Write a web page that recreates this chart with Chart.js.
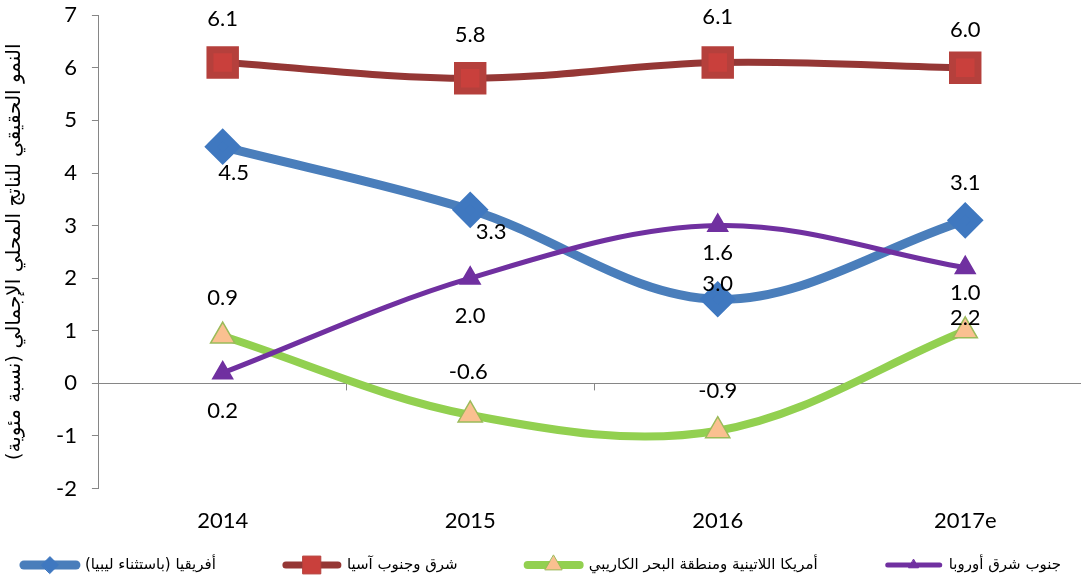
<!DOCTYPE html>
<html>
<head>
<meta charset="utf-8">
<script src="https://cdn.jsdelivr.net/npm/chart.js@4"></script>
<style>
html, body { margin: 0; padding: 0; overflow: hidden; background: #fff; }
#wrap { width: 1114px; height: 596px; margin-top: -13px; position: relative; }
</style>
</head>
<body>
<div id="wrap"><canvas id="growth-chart"></canvas></div>
<script>
const years = ["2014", "2015", "2016", "2017e"];
const africa = [4.5, 3.3, 1.6, 3.1];
const southEastAsia = [6.1, 5.8, 6.1, 6.0];
const latinAmerica = [0.9, -0.6, -0.9, 1.0];
const southEastEurope = [0.2, 2.0, 3.0, 2.2];
const yMin = -2, yMax = 7, yStep = 1;
const seriesNames = ["أفريقيا (باستثناء ليبيا)", "شرق وجنوب آسيا", "أمريكا اللاتينية ومنطقة البحر الكاريبي", "جنوب شرق أوروبا"];
const yTitle = "النمو الحقيقي للناتج المحلي الإجمالي (نسبة مئوية)";

// where each value label sits relative to its point [dx, dy] (px)
const labelShift = [
  [[11, 26], [21, 22], [0, -46], [0, -37]],
  [[0, -44], [0, -43], [0, -46], [0, -38]],
  [[0, -38], [-2, -43], [0, -40], [0, -38]],
  [[0, 38], [0, 38], [0, 58], [0, 50]]
];

const numFont = "Lato";
const arFont = "DejaVu Sans";
const axisGrey = "#868686";

const zeroLine = {
  id: "zeroLine",
  beforeDatasetsDraw(chart) {
    const {ctx, chartArea, scales} = chart;
    const y0 = scales.y.getPixelForValue(0);
    const step = (chartArea.right - chartArea.left) / years.length;
    ctx.save();
    ctx.strokeStyle = axisGrey;
    ctx.lineWidth = 1;
    ctx.beginPath();
    ctx.moveTo(chartArea.left, Math.round(y0) + 0.5);
    ctx.lineTo(chartArea.right, Math.round(y0) + 0.5);
    for (let i = 1; i <= years.length; i++) {
      const x = Math.round(chartArea.left + i * step) + 0.5;
      ctx.moveTo(x, y0);
      ctx.lineTo(x, y0 + 7);
    }
    ctx.stroke();
    ctx.restore();
  }
};

const valueLabels = {
  id: "valueLabels",
  afterDatasetsDraw(chart) {
    const ctx = chart.ctx;
    ctx.save();
    ctx.font = "22px " + numFont;
    ctx.fillStyle = "#000";
    ctx.textAlign = "center";
    ctx.textBaseline = "middle";
    chart.data.datasets.forEach((ds, di) => {
      chart.getDatasetMeta(di).data.forEach((pt, i) => {
        const s = labelShift[di][i];
        ctx.fillText(ds.data[i].toFixed(1), pt.x + s[0], pt.y + s[1]);
      });
    });
    ctx.restore();
  }
};

const lineLegend = {
  id: "lineLegend",
  afterDraw(chart) {
    const ctx = chart.ctx;
    const lineLen = 60, textGap = 5, itemGap = 66, yc = 578;
    ctx.save();
    ctx.font = "15px '" + arFont + "'";
    const widths = chart.data.datasets.map(ds => ctx.measureText(ds.label).width);
    let total = widths.reduce((a, b) => a + b, 0) + chart.data.datasets.length * (lineLen + textGap) + (chart.data.datasets.length - 1) * itemGap;
    let x = (1081 - total) / 2;
    chart.data.datasets.forEach((ds, i) => {
      ctx.strokeStyle = ds.borderColor;
      ctx.lineWidth = ds.borderWidth;
      ctx.lineCap = "round";
      ctx.beginPath();
      ctx.moveTo(x + 4, yc);
      ctx.lineTo(x + lineLen - 4, yc);
      ctx.stroke();
      ctx.fillStyle = ds.pointBackgroundColor;
      ctx.strokeStyle = ds.pointBorderColor;
      ctx.lineWidth = 1;
      Chart.helpers.drawPoint(ctx, {pointStyle: ds.pointStyle, radius: ds.pointRadius * 0.7, rotation: 0, borderWidth: 1}, x + lineLen / 2, yc);
      ctx.fillStyle = "#000";
      ctx.direction = "rtl";
      ctx.textAlign = "left";
      ctx.textBaseline = "middle";
      ctx.fillText(ds.label, x + lineLen + textGap, yc);
      x += lineLen + textGap + widths[i] + itemGap;
    });
    ctx.restore();
  }
};

new Chart(document.getElementById("growth-chart"), {
  type: "line",
  data: {
    labels: years,
    datasets: [{
      label: seriesNames[0],
      data: africa,
      borderColor: "#4A7EBB",
      borderWidth: 9,
      pointStyle: "rectRot",
      pointRadius: 12,
      pointBackgroundColor: "#3F78C0",
      pointBorderColor: "#3F78C0",
      order: 4
    }, {
      label: seriesNames[1],
      data: southEastAsia,
      borderColor: "#953735",
      borderWidth: 7,
      pointStyle: "rect",
      pointRadius: 18,
      pointBackgroundColor: "#C9403C",
      pointBorderColor: "#B5403C",
      order: 3
    }, {
      label: seriesNames[2],
      data: latinAmerica,
      borderColor: "#92D050",
      borderWidth: 8,
      pointStyle: "triangle",
      pointRadius: 14,
      pointBackgroundColor: "#FAC090",
      pointBorderColor: "#9BBB59",
      pointBorderWidth: 1.5,
      order: 2
    }, {
      label: seriesNames[3],
      data: southEastEurope,
      borderColor: "#7030A0",
      borderWidth: 5,
      pointStyle: "triangle",
      pointRadius: 8,
      pointBackgroundColor: "#7030A0",
      pointBorderColor: "#7030A0",
      order: 1
    }]
  },
  options: {
    maintainAspectRatio: false,
    responsive: true,
    animation: false,
    layout: { padding: { top: 4, right: 1, bottom: 38, left: 3 } },
    elements: { line: { tension: 0.35, fill: false } },
    plugins: {
      legend: { display: false },
      tooltip: { enabled: false }
    },
    scales: {
      x: {
        offset: true,
        grid: { display: false },
        border: { display: false },
        ticks: { color: "#000", font: { family: numFont, size: 22 }, padding: 11 }
      },
      y: {
        min: yMin,
        max: yMax,
        ticks: { stepSize: yStep, color: "#000", font: { family: numFont, size: 22 }, padding: 15 },
        grid: { drawOnChartArea: false, drawTicks: true, tickLength: 7, color: axisGrey },
        border: { color: axisGrey, width: 1 },
        title: { display: true, text: yTitle + "\u200F", color: "#000", font: { family: arFont, size: 20 }, padding: { top: 0, bottom: 14 } }
      }
    }
  },
  plugins: [zeroLine, valueLabels, lineLegend]
});
</script>
</body>
</html>
